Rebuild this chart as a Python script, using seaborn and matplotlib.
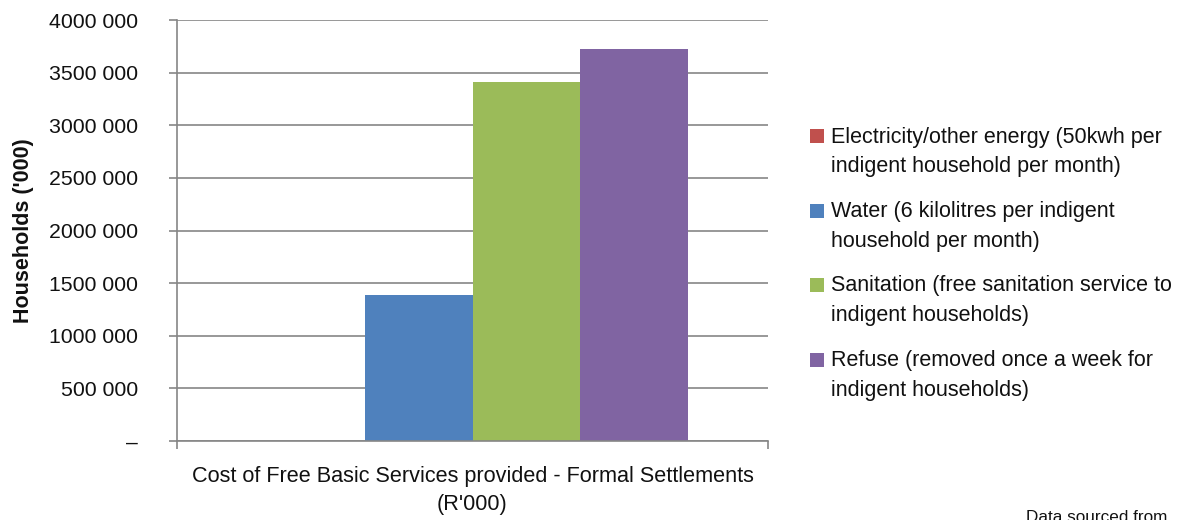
import matplotlib
matplotlib.use("Agg")
import matplotlib.pyplot as plt
import matplotlib.ticker as mticker
import matplotlib.patches as mpatches
from matplotlib.legend_handler import HandlerPatch
import seaborn as sns
import pandas as pd

# Free basic services, formal settlements (R'000)
category = ["Cost of Free Basic Services provided - Formal Settlements\n(R'000)"]
services = [
    "Electricity/other energy (50kwh per\nindigent household per month)",
    "Water (6 kilolitres per indigent\nhousehold per month)",
    "Sanitation (free sanitation service to\nindigent households)",
    "Refuse (removed once a week for\nindigent households)",
]
values = [0, 1387000, 3411000, 3724000]
colors = ["#C0504D", "#4F81BD", "#9BBB59", "#8064A2"]
y_ticks = [0, 500000, 1000000, 1500000, 2000000, 2500000, 3000000, 3500000, 4000000]

df = pd.DataFrame({
    "category": category * len(services),
    "service": services,
    "value": values,
})

sns.set_theme(style="white")
plt.rcParams["font.family"] = ["Liberation Sans", "DejaVu Sans"]

fig = plt.figure(figsize=(11.84, 5.2), dpi=100)
ax = fig.add_axes([177 / 1184, 1 - 441 / 520, (768 - 177) / 1184, (441 - 20) / 520])

sns.barplot(data=df, x="category", y="value", hue="service", palette=colors,
            width=0.73, saturation=1, linewidth=0, ax=ax, legend=True)

grid_col = "#868686"
txt_col = "#111111"
ax.set_ylim(0, 4000000)
ax.set_xlim(-0.5, 0.5)
ax.set_yticks(y_ticks)


def fmt(v, pos):
    if v == 0:
        return "\u2013"
    v = int(round(v))
    return f"{v // 1000} {v % 1000:03d}"


ax.yaxis.set_major_formatter(mticker.FuncFormatter(fmt))
ax.yaxis.grid(True, color=grid_col, linewidth=1.2)
ax.set_axisbelow(True)
for s in ["right", "top"]:
    ax.spines[s].set_visible(False)
for s in ["left", "bottom"]:
    ax.spines[s].set_color(grid_col)
    ax.spines[s].set_linewidth(1.2)

ax.tick_params(axis="y", which="major", left=True, length=6, width=1.2,
               color=grid_col, labelsize=15.3, pad=22, labelcolor=txt_col)
ax.tick_params(axis="x", which="major", bottom=False, labelsize=15.6, pad=12,
               labelcolor=txt_col)
for lbl in ax.get_xticklabels():
    lbl.set_linespacing(1.45)
ax.set_xticks([-0.5, 0.5], minor=True)
ax.tick_params(axis="x", which="minor", bottom=True, length=6, width=1.2,
               color=grid_col)

ax.set_xlabel("")
ax.set_ylabel("Households ('000)", fontsize=15.5, fontweight="bold",
              labelpad=11, color=txt_col)


def top_square(legend, orig_handle, xdescent, ydescent, width, height, fontsize):
    # square aligned with the first line of a two-line label
    return mpatches.Rectangle((-xdescent, -ydescent + 11.5), width, height)


handles, labels = ax.get_legend_handles_labels()
leg = ax.legend(handles, labels, loc="center left", bbox_to_anchor=(810 / 1184, 0.493),
                bbox_transform=fig.transFigure, frameon=False, fontsize=15.5,
                handlelength=0.66, handleheight=0.62, handletextpad=0.3,
                labelspacing=1.1, borderaxespad=0, borderpad=0,
                handler_map={mpatches.Rectangle: HandlerPatch(patch_func=top_square)})
for t in leg.get_texts():
    t.set_linespacing(1.55)
    t.set_color(txt_col)

fig.text(1026 / 1184, 10 / 520, "Data sourced from", ha="left", va="top",
         fontsize=12.3, color=txt_col)

fig.savefig("out.png", dpi=100)
